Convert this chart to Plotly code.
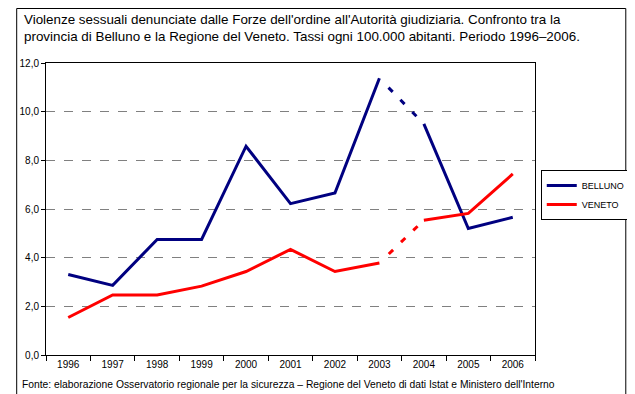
import plotly.graph_objects as go

years = ["1996", "1997", "1998", "1999", "2000", "2001", "2002", "2003", "2004", "2005", "2006"]
belluno = [3.31, 2.86, 4.75, 4.75, 8.58, 6.22, 6.66, 11.37, 9.50, 5.20, 5.66]
veneto = [1.54, 2.47, 2.47, 2.83, 3.43, 4.34, 3.43, 3.78, 5.54, 5.82, 7.44]
series_names = ["BELLUNO", "VENETO"]
series_colors = ["#000080", "#FF0000"]
dashed_from, dashed_to = "2003", "2004"

title_text = ("Violenze sessuali denunciate dalle Forze dell'ordine all'Autorità giudiziaria. Confronto tra la<br>"
              "provincia di Belluno e la Regione del Veneto. Tassi ogni 100.000 abitanti. Periodo 1996–2006.")
source_text = ("Fonte: elaborazione Osservatorio regionale per la sicurezza – Regione del Veneto "
               "di dati Istat e Ministero dell'Interno")

W, H = 635, 394
L, R, T, B = 31, 95, 55, 47
PW, PH = W - L - R, H - T - B
FONT = "Liberation Sans"


def px_x(p):
    return (p - L) / PW


def px_y(p):
    return (H - B - p) / PH


fig = go.Figure()
i0 = years.index(dashed_from)
i1 = years.index(dashed_to)
for name, vals, col in zip(series_names, [belluno, veneto], series_colors):
    fig.add_trace(go.Scatter(x=years[:i0 + 1], y=vals[:i0 + 1], mode="lines", name=name,
                             legendgroup=name, line=dict(color=col, width=3)))
    fig.add_trace(go.Scatter(x=years[i0:i1 + 1], y=vals[i0:i1 + 1], mode="lines", name=name,
                             legendgroup=name, showlegend=False,
                             line=dict(color=col, width=3,
                                       dash="0px,13px,6px,11px,6px,11px,6px,30px")))
    fig.add_trace(go.Scatter(x=years[i1:], y=vals[i1:], mode="lines", name=name,
                             legendgroup=name, showlegend=False,
                             line=dict(color=col, width=3)))

fig.update_layout(
    width=W, height=H,
    margin=dict(l=L, r=R, t=T, b=B, pad=0),
    paper_bgcolor="white", plot_bgcolor="white",
    separators=",.",
    font=dict(family=FONT, size=10, color="black"),
    showlegend=True,
    legend=dict(x=px_x(546), y=px_y(162), xanchor="left", yanchor="top",
                bordercolor="black", borderwidth=1, bgcolor="white",
                font=dict(family=FONT, size=9, color="black"),
                tracegroupgap=0),
    xaxis=dict(type="category", categoryorder="array", categoryarray=years,
               range=[-0.5, len(years) - 0.5],
               showline=True, linecolor="black", linewidth=1, mirror=True,
               ticks="outside", tickson="boundaries", ticklen=5, tickcolor="black",
               showgrid=False, tickfont=dict(family=FONT, size=10)),
    yaxis=dict(range=[0, 12], dtick=2, tick0=0, tickformat=".1f",
               showline=True, linecolor="black", linewidth=1, mirror=True,
               ticks="outside", ticklen=4, tickcolor="black",
               showgrid=True, gridcolor="#808080", griddash="dash", gridwidth=1,
               zeroline=False, tickfont=dict(family=FONT, size=10)),
    annotations=[
        dict(text=title_text, xref="paper", yref="paper", x=px_x(6), y=px_y(2),
             xanchor="left", yanchor="top", align="left", showarrow=False,
             font=dict(family=FONT, size=13.4, color="black")),
        dict(text=source_text, xref="paper", yref="paper", x=px_x(4), y=px_y(376),
             xanchor="left", yanchor="middle", align="left", showarrow=False,
             font=dict(family=FONT, size=10.3, color="black")),
    ],
    shapes=[
        dict(type="rect", xref="paper", yref="paper",
             x0=px_x(0.5), x1=px_x(W - 0.5), y0=px_y(H - 0.5), y1=px_y(0.5),
             line=dict(color="black", width=1), fillcolor="rgba(0,0,0,0)", layer="above"),
    ],
)

fig.write_html("out.html")
